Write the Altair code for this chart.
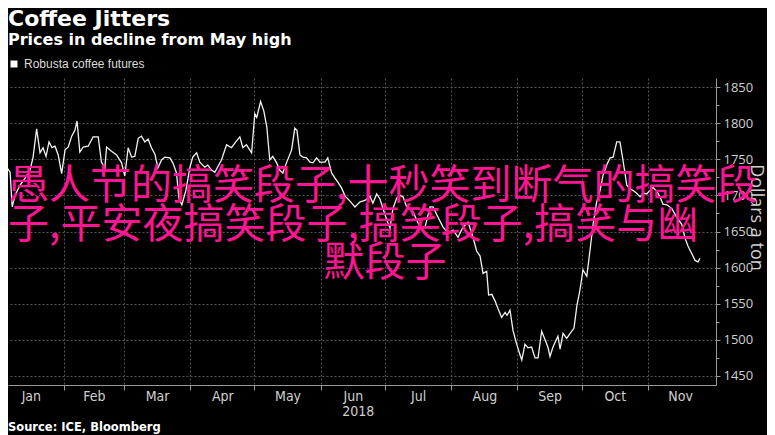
import altair as alt
import pandas as pd

TITLE = "Coffee Jitters"
SUBTITLE = "Prices in decline from May high"
SERIES = "Robusta coffee futures"
SOURCE = "Source: ICE, Bloomberg"
Y_TITLE = "Dollars a ton"
YEAR_LABEL = "2018"
OVERLAY_1 = "愚人节的搞笑段子,十秒笑到断气的搞笑段"
OVERLAY_2 = "子,平安夜搞笑段子,搞笑段子,搞笑与幽"
OVERLAY_3 = "默段子"

# days elapsed since 2018-01-01 (fractional)
DAY_OF_YEAR = [
    1.1, 2.5, 4.2, 5.8, 6.8, 8.1, 10.4, 12.8, 15.1, 16.5,
    18.2, 19.8, 21.2, 22.6, 24.0, 25.4, 26.8, 28.3, 29.9, 31.5,
    33.0, 34.6, 36.1, 37.1, 38.4, 40.0, 42.3, 44.6, 47.0, 48.5,
    50.1, 50.9, 53.2, 55.6, 57.9, 59.4, 61.0, 62.6, 64.1, 65.7,
    67.2, 68.8, 70.3, 71.9, 73.5, 74.9, 76.6, 78.1, 80.5, 81.9,
    83.6, 84.7, 86.1, 88.0, 89.8, 91.2, 93.0, 94.5, 96.8, 98.2,
    100.0, 101.5, 104.6, 107.0, 109.3, 111.3, 113.2, 114.6, 116.3, 118.7,
    120.2, 121.1, 122.9, 124.4, 125.8, 127.2, 128.6, 130.4, 131.9, 133.3,
    135.0, 137.4, 138.9, 139.9, 141.3, 142.7, 144.4, 146.0, 147.4, 149.1,
    150.6, 153.0, 154.3, 156.1, 157.7, 159.1, 160.8, 162.4, 164.7, 167.0,
    169.4, 171.7, 174.0, 175.4, 177.2, 178.7, 180.1, 181.9, 183.4, 184.8,
    186.5, 188.0, 189.5, 191.2, 194.2, 197.4, 199.8, 202.1, 203.5, 205.8,
    208.2, 210.5, 212.9, 215.2, 217.5, 219.9, 222.2, 223.9, 225.5, 226.9,
    228.6, 229.5, 231.0, 232.5, 233.9, 235.6, 237.2, 238.1, 239.5, 240.9,
    242.6, 244.2, 245.0, 246.5, 247.9, 249.6, 251.2, 252.6, 254.3, 255.9,
    257.3, 258.2, 259.6, 261.9, 262.9, 264.3, 266.0, 267.6, 269.4, 270.8,
    272.2, 273.6, 275.4, 276.9, 278.3, 280.0, 281.6, 283.0, 284.7, 286.3,
    287.7, 289.4, 290.9, 292.3, 294.1, 295.6, 297.0, 298.7, 300.3, 301.7,
    303.4, 304.9, 306.3, 308.1, 309.6, 311.0, 312.8, 315.1, 317.4, 319.8,
    321.3, 322.7, 324.4, 326.0, 327.4, 328.3,
]
PRICE = [
    1735, 1739, 1739, 1732, 1684, 1700, 1714, 1724, 1735, 1752,
    1792, 1759, 1766, 1754, 1774, 1766, 1768, 1756, 1730, 1763,
    1767, 1782, 1790, 1803, 1760, 1767, 1768, 1781, 1781, 1746,
    1738, 1767, 1761, 1756, 1745, 1727, 1766, 1753, 1754, 1779,
    1782, 1774, 1778, 1766, 1757, 1738, 1749, 1753, 1752, 1745,
    1731, 1696, 1687, 1707, 1738, 1753, 1759, 1746, 1739, 1742,
    1735, 1732, 1749, 1770, 1766, 1774, 1781, 1766, 1770, 1759,
    1813, 1808, 1830, 1817, 1795, 1749, 1754, 1745, 1735, 1731,
    1745, 1763, 1793, 1790, 1756, 1753, 1752, 1746, 1745, 1752,
    1746, 1746, 1752, 1731, 1724, 1718, 1710, 1699, 1692, 1684,
    1691, 1693, 1699, 1689, 1702, 1695, 1682, 1666, 1655, 1682,
    1696, 1700, 1698, 1684, 1677, 1656, 1656, 1684, 1684, 1670,
    1656, 1648, 1652, 1642, 1656, 1663, 1642, 1623, 1616, 1592,
    1595, 1562, 1563, 1554, 1543, 1531, 1538, 1534, 1541, 1513,
    1494, 1479, 1472, 1494, 1489, 1490, 1475, 1475, 1512, 1500,
    1489, 1477, 1490, 1505, 1487, 1509, 1502, 1509, 1516, 1548,
    1569, 1597, 1588, 1624, 1659, 1691, 1707, 1728, 1742, 1752,
    1753, 1774, 1774, 1749, 1714, 1709, 1707, 1703, 1698, 1703,
    1702, 1707, 1711, 1706, 1698, 1688, 1687, 1682, 1670, 1660,
    1641, 1630, 1620, 1610, 1608, 1613,
]
Y_TICKS = [1450, 1500, 1550, 1600, 1650, 1700, 1750, 1800, 1850]
Y_MINOR = [1475, 1525, 1575, 1625, 1675, 1725, 1775, 1825]
LABEL_MONTHS = [1, 2, 3, 4, 5, 6, 7, 8, 9, 10, 11]
GRID_MONTHS = [2, 3, 4, 5, 6, 7, 8, 9, 10, 11]

BASE = pd.Timestamp("2018-01-01")
dates = BASE + pd.to_timedelta(DAY_OF_YEAR, unit="D")
df = pd.DataFrame({
    "date": dates.strftime("%Y-%m-%dT%H:%M:%S"),
    "price": PRICE,
    "series": SERIES,
})


def dt(ts):
    return alt.DateTime(year=ts.year, month=ts.month, date=ts.day,
                        hours=ts.hour, minutes=ts.minute)


x_start = BASE + pd.Timedelta(days=4.82)
x_end = BASE + pd.Timedelta(days=335.8)
grid_vals = [dt(pd.Timestamp(2018, m, 1)) for m in GRID_MONTHS]
label_vals = []
for m in LABEL_MONTHS:
    s = pd.Timestamp(2018, m, 1)
    e = pd.Timestamp(2018, m + 1, 1)
    label_vals.append(dt(s + (e - s) / 2))

LABEL_GREY = "#d0d0d0"
AXIS_GREY = "#9a9a9a"
GRID_GREY = "#555555"

xscale = alt.Scale(domain=[dt(x_start), dt(x_end)], nice=False)
yscale = alt.Scale(domain=[1437.5, 1862.5], nice=False, zero=False)

axis_x_grid = alt.Axis(
    orient="bottom", values=grid_vals, labels=False, title=None,
    grid=True, gridColor=GRID_GREY, gridDash=[2, 2], gridWidth=1,
    domain=True, domainColor=AXIS_GREY, domainWidth=1,
    ticks=True, tickColor=AXIS_GREY, tickSize=5, tickWidth=1,
)
axis_x_labels = alt.Axis(
    orient="bottom", values=label_vals, format="%b", grid=False,
    domain=False, ticks=False, tickSize=0, labelFlush=False, labelOverlap=False,
    labelPadding=11, labelBaseline="middle",
    labelFont="DejaVu Sans Condensed, DejaVu Sans", labelFontSize=14,
    labelColor=LABEL_GREY,
    title=YEAR_LABEL, titleX=349.7, titleY=26, titleAlign="center",
    titleBaseline="middle", titleAngle=0,
    titleFont="DejaVu Sans Condensed, DejaVu Sans", titleFontSize=14,
    titleFontWeight="normal", titleColor=LABEL_GREY,
)
axis_y_major = alt.Axis(
    orient="right", values=Y_TICKS, format="d", grid=True, gridColor=GRID_GREY,
    gridDash=[2, 2], gridWidth=1, domain=True, domainColor=AXIS_GREY,
    ticks=True, tickColor=AXIS_GREY, tickSize=4, labelPadding=3,
    labelFont="Open Sans", labelFontSize=13, labelColor=LABEL_GREY,
    labelBaseline="middle",
    title=Y_TITLE, titleX=39, titleY=139, titleAngle=90, titleAlign="center",
    titleBaseline="middle", titleFont="Open Sans", titleFontSize=18,
    titleFontWeight="normal", titleColor=LABEL_GREY,
)
axis_y_minor = alt.Axis(
    orient="right", values=Y_MINOR, grid=False, domain=False, labels=False,
    ticks=True, tickColor=AXIS_GREY, tickSize=3, title=None,
)

line = alt.Chart(df).mark_line(color="#f2f2f2", strokeWidth=1.3, clip=True).encode(
    x=alt.X("date:T", scale=xscale, axis=axis_x_grid),
    y=alt.Y("price:Q", scale=yscale, axis=axis_y_major),
)

helper = alt.Chart(df).mark_square(opacity=0, size=1).encode(
    x=alt.X("date:T", scale=xscale, axis=axis_x_labels),
    y=alt.Y("price:Q", scale=yscale, axis=axis_y_minor),
    color=alt.Color(
        "series:N", scale=alt.Scale(range=["#ffffff"]),
        legend=alt.Legend(
            title=None, orient="none", legendX=0, legendY=-20,
            symbolType="square", symbolSize=49, symbolOpacity=1,
            symbolStrokeWidth=0, symbolFillColor="#ffffff",
            labelFont="Liberation Sans", labelFontSize=12,
            labelColor="#dcdcdc", labelOffset=4, padding=0,
        ),
    ),
)


def text_layer(txt, x, y, **kw):
    return alt.Chart(pd.DataFrame({"t": [txt]})).mark_text(**kw).encode(
        text="t:N", x=alt.value(x), y=alt.value(y)
    )


title = text_layer(TITLE, 0, -52, align="left", baseline="alphabetic",
                   font="DejaVu Sans", fontWeight="bold", fontSize=22,
                   color="#ffffff")
subtitle = text_layer(SUBTITLE, 0, -33, align="left", baseline="alphabetic",
                      font="DejaVu Sans", fontWeight="bold", fontSize=16,
                      color="#ffffff")
source = text_layer(SOURCE, 0, 353, align="left", baseline="alphabetic",
                    font="DejaVu Sans", fontWeight="bold", fontSize=11.5,
                    color="#ffffff")
PINK = "#ff1493"
ov_kw = dict(baseline="middle", font="Noto Sans CJK SC", fontSize=41,
             color=PINK)
ov1 = text_layer(OVERLAY_1, 0, 109, align="left", **ov_kw)
ov2 = text_layer(OVERLAY_2, 0, 148, align="left", **ov_kw)
ov3 = text_layer(OVERLAY_3, 377, 186, align="center", **ov_kw)

chart = alt.layer(line, helper, title, subtitle, source, ov1, ov2, ov3).resolve_axis(
    x="independent", y="independent"
).properties(
    width=708, height=307,
    padding={"left": 0, "top": 70, "right": 51, "bottom": 50},
    autosize=alt.AutoSizeParams(type="none"),
).configure(background="#000000").configure_view(stroke=None)

chart.save("out.html", embed_options={"renderer": "svg", "actions": False})
